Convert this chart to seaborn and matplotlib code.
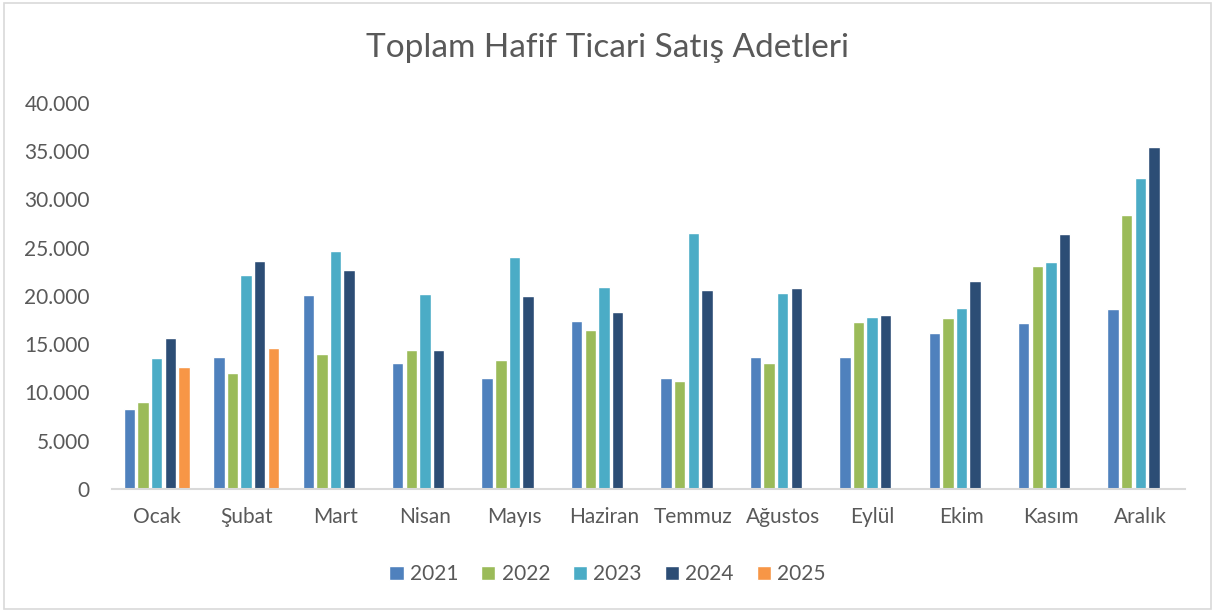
import matplotlib.pyplot as plt
import matplotlib.ticker as mticker
import seaborn as sns
import pandas as pd
import numpy as np

# ------------------------- Data -------------------------
months = ["Ocak", "Şubat", "Mart", "Nisan", "Mayıs", "Haziran",
          "Temmuz", "Ağustos", "Eylül", "Ekim", "Kasım", "Aralık"]
years = ["2021", "2022", "2023", "2024", "2025"]

sales_2021 = [8320, 13680, 20070, 13060, 11540, 17410, 11470, 13650, 13680, 16200, 17200, 18620]
sales_2022 = [9050, 11990, 14020, 14400, 13370, 16480, 11160, 13060, 17340, 17720, 23080, 28390]
sales_2023 = [13540, 22180, 24630, 20240, 24070, 20970, 26500, 20280, 17790, 18720, 23520, 32200]
sales_2024 = [15600, 23630, 22730, 14400, 20000, 18340, 20590, 20800, 18030, 21550, 26420, 35410]
sales_2025 = [12640, 14640, np.nan, np.nan, np.nan, np.nan, np.nan, np.nan, np.nan, np.nan, np.nan, np.nan]

colors = ["#4F81BD", "#9BBB59", "#4BACC6", "#2C4D75", "#F79646"]

series = [sales_2021, sales_2022, sales_2023, sales_2024, sales_2025]
df = pd.DataFrame({
    "Ay": months * len(years),
    "Yıl": [y for y in years for _ in months],
    "Adet": [v for s in series for v in s],
})

# ------------------------- Plot -------------------------
sns.set_style("white")
plt.rcParams["font.family"] = ["Lato", "DejaVu Sans"]
text_color = "#595959"

fig = plt.figure(figsize=(12.15, 6.12), dpi=100)
ax = fig.add_axes([0.0922, 0.201, 0.8831, 0.6307])

sns.barplot(data=df, x="Ay", y="Adet", hue="Yıl", order=months, hue_order=years,
            palette=colors, width=0.76, gap=0.16, saturation=1, ax=ax, errorbar=None)

ax.set_ylim(0, 40000)
ax.set_xlim(-0.5, len(months) - 0.5)
ax.yaxis.set_major_locator(mticker.MultipleLocator(5000))
ax.yaxis.set_major_formatter(mticker.FuncFormatter(lambda v, p: f"{int(v):,}".replace(",", ".")))
ax.set_xlabel("")
ax.set_ylabel("")

for side in ["top", "right", "left"]:
    ax.spines[side].set_visible(False)
ax.spines["bottom"].set_color("#D9D9D9")
ax.spines["bottom"].set_linewidth(1.5)

ax.tick_params(axis="y", length=0, pad=16, labelsize=15, labelcolor=text_color)
ax.tick_params(axis="x", length=0, pad=13, labelsize=15, labelcolor=text_color)

fig.text(0.5, 0.921, "Toplam Hafif Ticari Satış Adetleri", ha="center", va="center",
         fontsize=24, color=text_color)

handles, labels = ax.get_legend_handles_labels()
ax.legend(handles, labels, loc="center", bbox_to_anchor=(0.5, 0.062), bbox_transform=fig.transFigure,
          ncol=5, frameon=False, fontsize=15, labelcolor=text_color,
          handlelength=0.68, handleheight=0.68, handletextpad=0.3, columnspacing=1.1)

# light frame around the chart area
fig.patches.append(plt.Rectangle((0.003, 0.005), 0.994, 0.99, transform=fig.transFigure,
                                 fill=False, edgecolor="#D9D9D9", linewidth=1.2))

fig.savefig("out.png", dpi=100)
plt.close(fig)
